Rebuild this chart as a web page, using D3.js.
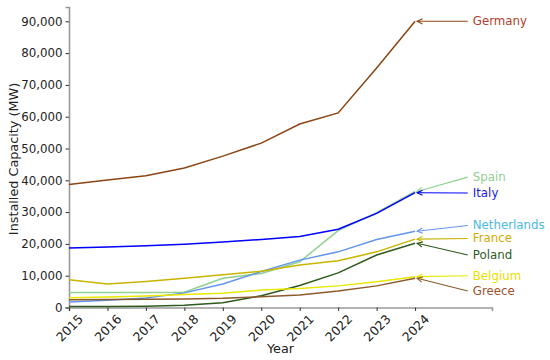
<!DOCTYPE html>
<html>
<head>
<meta charset="utf-8">
<script src="https://cdn.jsdelivr.net/npm/d3@7"></script>
<style>
  body { margin: 0; background: #fff; }
  text { font-family: "DejaVu Sans", sans-serif; }
</style>
</head>
<body>
<svg id="chart" width="550" height="360"></svg>
<script>
// data
var years = [2015, 2016, 2017, 2018, 2019, 2020, 2021, 2022, 2023, 2024];
var countries = ["Germany", "Spain", "Italy", "Netherlands", "France", "Poland", "Belgium", "Greece"];
var germany = [38700, 40100, 41400, 43900, 47600, 51700, 57700, 61200, 75300, 90000];
var spain = [4700, 4700, 4700, 4800, 9200, 10700, 14400, 24200, 29800, 36500];
var italy = [18700, 19000, 19400, 19900, 20600, 21400, 22300, 24600, 29600, 36100];
var netherlands = [1700, 2300, 3000, 4600, 7400, 11300, 14900, 17500, 21400, 24000];
var france = [8700, 7400, 8200, 9200, 10300, 11400, 13400, 14700, 17500, 21500];
var poland = [300, 300, 400, 700, 1500, 3700, 6900, 10900, 16500, 20200];
var belgium = [3100, 3300, 3600, 4100, 4450, 5500, 6000, 6800, 8100, 9700];
var greece = [2400, 2500, 2600, 2700, 2900, 3400, 3900, 5200, 6800, 9200];
// where each end label sits (in MW)
var labelValues = [90000, 41000, 36000, 25800, 21700, 16500, 10000, 5200];
var yTicks = [0, 10000, 20000, 30000, 40000, 50000, 60000, 70000, 80000, 90000];

var series = [germany, spain, italy, netherlands, france, poland, belgium, greece];
var lineColors = ["#8B4513", "#8FD18F", "#0000FF", "#6495ED", "#C9B400", "#2F5A1E", "#E8E800", "#8B5A2B"];
var textColors = ["#B0402A", "#8FD18F", "#1A1AE6", "#4BB8E6", "#D4AA00", "#2F5A1E", "#E8E000", "#A0522D"];

var svg = d3.select("#chart");

var x = d3.scaleLinear().domain([2015, 2026]).range([69, 492]);
var y = d3.scaleLinear().domain([0, 94500]).range([307.5, 7]);

// y axis
var yAxis = svg.append("g")
    .attr("transform", "translate(69,0)")
    .call(d3.axisLeft(y).tickValues(yTicks).tickFormat(d3.format(",")).tickSizeOuter(0).tickSize(3.5).tickPadding(3));
yAxis.select(".domain").attr("stroke", "#999").attr("stroke-width", 1.6);
yAxis.selectAll(".tick line").attr("stroke", "#333");
yAxis.selectAll(".tick text").style("font-size", "11.8px").attr("fill", "#222");

// x axis
var xAxis = svg.append("g")
    .attr("transform", "translate(0,307.5)")
    .call(d3.axisBottom(x).tickValues(years).tickFormat(d3.format("d")).tickSizeOuter(0).tickSize(3.5));
xAxis.select(".domain").attr("stroke", "#999").attr("stroke-width", 1.6);
xAxis.selectAll(".tick line").attr("stroke", "#333");
xAxis.selectAll(".tick text")
    .style("font-size", "12.5px")
    .attr("fill", "#222")
    .attr("y", 0)
    .attr("dy", null)
    .attr("text-anchor", "middle")
    .attr("dominant-baseline", "central")
    .attr("transform", "translate(0,20.5) rotate(-45)");

svg.append("text")
    .attr("x", 280.5)
    .attr("y", 353)
    .attr("text-anchor", "middle")
    .style("font-size", "12.8px")
    .attr("fill", "#222")
    .text("Year");

svg.append("text")
    .attr("transform", "translate(18,159) rotate(-90)")
    .attr("text-anchor", "middle")
    .style("font-size", "12.8px")
    .attr("fill", "#222")
    .text("Installed Capacity (MW)");

var line = d3.line()
    .x((d, i) => x(years[i]))
    .y(d => y(d));

svg.append("g")
    .selectAll("path")
    .data(series)
    .join("path")
    .attr("d", line)
    .attr("fill", "none")
    .attr("stroke", (d, i) => lineColors[i])
    .attr("stroke-width", 1.5);

// labels with arrows pointing at the 2024 value
var lastX = x(2024);
var textX = x(2025.5);
var ann = svg.append("g")
    .selectAll("g")
    .data(countries)
    .join("g");

ann.each(function (name, i) {
    var g = d3.select(this);
    var x1 = textX - 5, y1 = y(labelValues[i]);
    var x2 = lastX + 2, y2 = y(series[i][9]);
    var ang = Math.atan2(y1 - y2, x1 - x2);
    var hl = 6, hw = 0.45;
    g.append("line")
        .attr("x1", x1).attr("y1", y1)
        .attr("x2", x2).attr("y2", y2)
        .attr("stroke", lineColors[i])
        .attr("stroke-width", 1.1);
    g.append("path")
        .attr("d", "M" + (x2 + hl * Math.cos(ang + hw)) + "," + (y2 + hl * Math.sin(ang + hw)) +
            "L" + x2 + "," + y2 +
            "L" + (x2 + hl * Math.cos(ang - hw)) + "," + (y2 + hl * Math.sin(ang - hw)))
        .attr("fill", "none")
        .attr("stroke", lineColors[i])
        .attr("stroke-width", 1.1);
    g.append("text")
        .attr("x", textX)
        .attr("y", y1)
        .attr("dominant-baseline", "central")
        .style("font-size", "11.8px")
        .attr("fill", textColors[i])
        .text(name);
});
</script>
</body>
</html>
